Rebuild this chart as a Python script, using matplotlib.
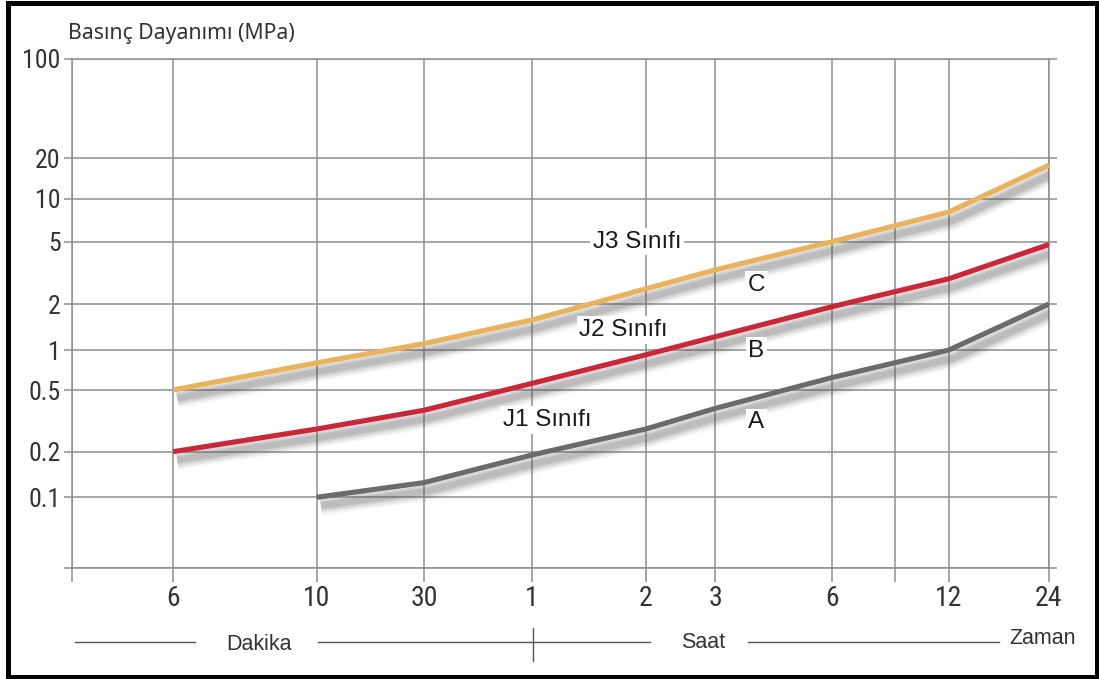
import numpy as np
import matplotlib
matplotlib.use('Agg')
import matplotlib.pyplot as plt
import matplotlib.patheffects as pe
from matplotlib import font_manager
from matplotlib.lines import Line2D
from matplotlib.patches import Rectangle

W, H = 1099, 679

# time in minutes
times = [6, 10, 30, 60, 120, 180, 360, 720, 1440]
j3_vals = [0.5, 0.8, 1.1, 1.57, 2.5, 3.3, 5.0, 8.1, 17.8]
j2_vals = [0.2, 0.28, 0.37, 0.56, 0.92, 1.22, 1.92, 2.9, 4.8]
j1_vals = [np.nan, 0.1, 0.125, 0.19, 0.28, 0.38, 0.62, 1.0, 2.0]

x_ticks = [3, 6, 10, 30, 60, 120, 180, 360, 540, 720, 1440]
x_labels = ['', '6', '10', '30', '1', '2', '3', '6', '', '12', '24']
y_ticks = [0.03, 0.1, 0.2, 0.5, 1, 2, 5, 10, 20, 100]
y_labels = ['', '0.1', '0.2', '0.5', '1', '2', '5', '10', '20', '100']

# the printed axes are schematic (not evenly spaced), so pin each tick to its place
x_tick_px = [71.7, 173, 316.7, 424, 531.7, 645.7, 715, 832, 895, 949, 1049]
y_tick_px = [568.3, 497.3, 451.7, 390, 350, 304, 241.7, 199, 158.3, 59]

GRID = '#8e8e8e'
GOLD = '#e8b35c'
RED = '#c92838'
GRAY = '#6b6b6b'

names = {f.name for f in font_manager.fontManager.ttflist}
NARROW = 'Liberation Sans'
for cand in ['Liberation Sans Narrow', 'DejaVu Sans Condensed', 'Roboto Condensed']:
    if cand in names:
        NARROW = cand
        break
TICK_X = 20 if NARROW != 'Liberation Sans' else 17
TICK_Y = 18.5 if NARROW != 'Liberation Sans' else 16


def x_fwd(v):
    v = np.clip(np.asarray(v, dtype=float), 1e-6, None)
    return np.interp(np.log10(v), np.log10(x_ticks), x_tick_px)


def x_inv(p):
    return 10 ** np.interp(p, x_tick_px, np.log10(x_ticks))


def y_fwd(v):
    v = np.clip(np.asarray(v, dtype=float), 1e-6, None)
    return -np.interp(np.log10(v), np.log10(y_ticks), y_tick_px)


def y_inv(p):
    return 10 ** np.interp(p, -np.array(y_tick_px), np.log10(y_ticks))


def fx(px):
    return px / W


def fy(py):
    return 1 - py / H


fig = plt.figure(figsize=(W / 100, H / 100), dpi=100)
ax = fig.add_axes([fx(71.7), fy(568.3), fx(1049 - 71.7), (568.3 - 59) / H])
ax.set_xscale('function', functions=(x_fwd, x_inv))
ax.set_yscale('function', functions=(y_fwd, y_inv))
ax.set_xlim(x_ticks[0], x_ticks[-1])
ax.set_ylim(y_ticks[0], y_ticks[-1])

ax.set_xticks(x_ticks, x_labels)
ax.set_yticks(y_ticks, y_labels)
ax.minorticks_off()
ax.tick_params(axis='x', direction='out', length=10, width=1.1, color=GRID,
               pad=2, labelsize=TICK_X, labelcolor='#333333')
ax.tick_params(axis='y', direction='out', length=5.5, width=1.1, color=GRID,
               left=True, right=True, pad=2.5, labelsize=TICK_Y, labelcolor='#333333')
for lbl in ax.get_xticklabels() + ax.get_yticklabels():
    lbl.set_fontfamily(NARROW)

ax.grid(True, color=GRID, lw=1.1)
ax.set_axisbelow(True)
for sp in ax.spines.values():
    sp.set_color(GRID)
    sp.set_linewidth(1.1)

# soft drop shadow built from a few wide, faint strokes
shadow = []
for lw, a in [(14, 0.06), (11, 0.09), (8, 0.13), (5, 0.18)]:
    shadow.append(pe.SimpleLineShadow(offset=(3, -6), shadow_color='#555555',
                                      alpha=a, linewidth=lw))
shadow.append(pe.Normal())
for vals, col in [(j1_vals, GRAY), (j2_vals, RED), (j3_vals, GOLD)]:
    ax.plot(times, vals, color=col, lw=3.7, solid_capstyle='butt',
            solid_joinstyle='round', path_effects=shadow, zorder=4)

box = dict(facecolor='white', edgecolor='none', pad=2)
lab_kw = dict(ha='center', va='center', fontsize=17.5, family='Liberation Sans',
              color='#1a1a1a', bbox=box, zorder=6)
ax.text(114, 5.0, 'J3 Sınıfı', **lab_kw)
ax.text(105, 1.35, 'J2 Sınıfı', **lab_kw)
ax.text(66, 0.32, 'J1 Sınıfı', **lab_kw)
ax.text(230, 2.64, 'C', **lab_kw)
ax.text(230, 0.98, 'B', **lab_kw)
ax.text(230, 0.31, 'A', **lab_kw)

fig.text(fx(68), fy(33), 'Basınç Dayanımı (MPa)', ha='left', va='center',
         fontsize=15.3, family='Noto Sans', color='#333333')

# time unit row under the axis
row_y = fy(642)
for a, b in [(75, 195), (318, 650), (748, 999)]:
    fig.add_artist(Line2D([fx(a), fx(b)], [row_y, row_y], color='#555555', lw=1.0))
fig.add_artist(Line2D([fx(532.6), fx(532.6)], [fy(628), fy(661)], color='#555555', lw=1.0))
unit_kw = dict(va='center', fontsize=15.5, family='Liberation Sans', color='#333333')
fig.text(fx(259), fy(645), 'Dakika', ha='center', **unit_kw)
fig.text(fx(703), fy(643), 'Saat', ha='center', **unit_kw)
fig.text(fx(1009), fy(638), 'Zaman', ha='left', **unit_kw)

fig.add_artist(Rectangle((fx(7.5), fy(676.5)), fx(1096.5 - 7.5), (676.5 - 2.5) / H,
                         transform=fig.transFigure, fill=False, ec='black', lw=3.6))

fig.savefig('out.png', dpi=100)
